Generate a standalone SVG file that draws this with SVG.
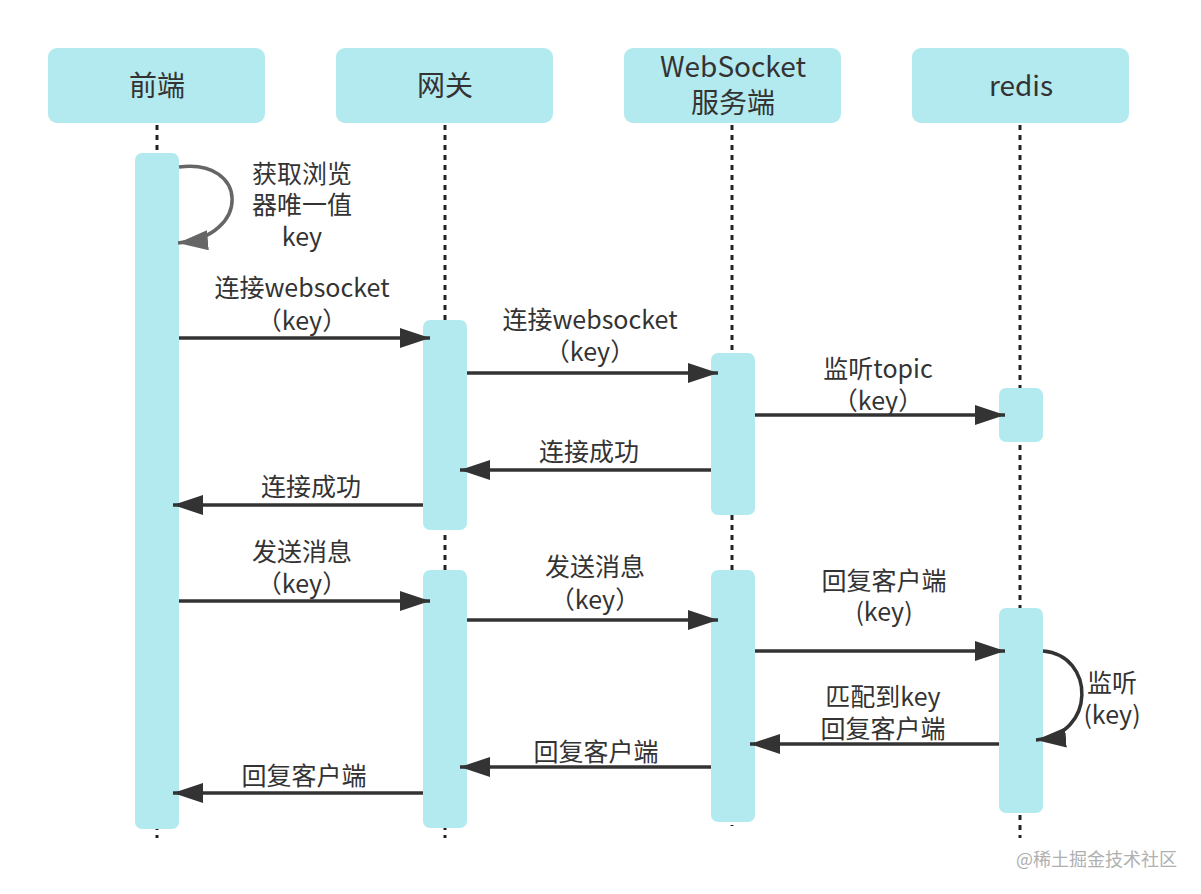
<svg xmlns="http://www.w3.org/2000/svg" width="1201" height="894" viewBox="0 0 1201 894">
<defs>
<style>
.hdr{fill:#b3eaef}
.act{fill:#b3eaef}
.life{stroke:#222;stroke-width:3;stroke-dasharray:5 5;fill:none}
.msg{stroke:#333;stroke-width:3.5;fill:none}
.t{font-family:"Noto Sans CJK SC","Microsoft YaHei",sans-serif;font-size:25px;fill:#333;text-anchor:middle}
.h{font-family:"Noto Sans CJK SC","Microsoft YaHei",sans-serif;font-size:28px;fill:#333;text-anchor:middle}
.wm{font-family:"Noto Sans CJK SC",sans-serif;font-size:18px;fill:#b0b0b0}
</style>
<marker id="ah" viewBox="0 0 30 20" refX="30" refY="10" markerWidth="30" markerHeight="20" markerUnits="userSpaceOnUse" orient="auto">
<path d="M0,0 L30,10 L0,20 Z" fill="#333"/>
</marker>
<marker id="ahg" viewBox="0 0 30 20" refX="30" refY="10" markerWidth="30" markerHeight="20" markerUnits="userSpaceOnUse" orient="auto">
<path d="M0,0 L30,10 L0,20 Z" fill="#666"/>
</marker>
</defs>
<rect width="1201" height="894" fill="#fff"/>

<g id="lifelines">
<line class="life" x1="157" y1="125" x2="157" y2="838"/>
<line class="life" x1="445" y1="125" x2="445" y2="838"/>
<line class="life" x1="732" y1="125" x2="732" y2="826"/>
<line class="life" x1="1020" y1="125" x2="1020" y2="838"/>
</g>

<g id="node-frontend">
<rect class="hdr" x="48" y="48" width="217" height="75" rx="9"/>
<text class="h" x="157" y="96">前端</text>
</g>
<g id="node-gateway">
<rect class="hdr" x="336" y="48" width="217" height="75" rx="9"/>
<text class="h" x="445" y="96">网关</text>
</g>
<g id="node-ws">
<rect class="hdr" x="624" y="48" width="217" height="75" rx="9"/>
<text class="h" x="733" y="77">WebSocket</text>
<text class="h" x="733" y="113">服务端</text>
</g>
<g id="node-redis">
<rect class="hdr" x="912" y="48" width="217" height="75" rx="9"/>
<text class="h" x="1021" y="96">redis</text>
</g>

<g id="activations">
<rect class="act" x="135" y="153" width="44" height="676" rx="7"/>
<rect class="act" x="423" y="320" width="44" height="210" rx="7"/>
<rect class="act" x="423" y="570" width="44" height="258" rx="7"/>
<rect class="act" x="711" y="353" width="44" height="162" rx="7"/>
<rect class="act" x="711" y="570" width="44" height="252" rx="7"/>
<rect class="act" x="999" y="388" width="44" height="54" rx="7"/>
<rect class="act" x="999" y="608" width="44" height="205" rx="7"/>
</g>

<g id="connectors">
<path d="M179,167 C248,158 252,236 178,243" stroke="#666" stroke-width="3.5" fill="none" marker-end="url(#ahg)"/>
<line class="msg" x1="179" y1="338" x2="430" y2="338" marker-end="url(#ah)"/>
<line class="msg" x1="467" y1="373" x2="718" y2="373" marker-end="url(#ah)"/>
<line class="msg" x1="755" y1="415" x2="1005" y2="415" marker-end="url(#ah)"/>
<line class="msg" x1="711" y1="470" x2="460" y2="470" marker-end="url(#ah)"/>
<line class="msg" x1="423" y1="505" x2="173" y2="505" marker-end="url(#ah)"/>
<line class="msg" x1="179" y1="601" x2="430" y2="601" marker-end="url(#ah)"/>
<line class="msg" x1="467" y1="620" x2="718" y2="620" marker-end="url(#ah)"/>
<line class="msg" x1="755" y1="651" x2="1005" y2="651" marker-end="url(#ah)"/>
<path class="msg" d="M1043,651 C1095,655 1097,735 1036,740" marker-end="url(#ah)"/>
<line class="msg" x1="999" y1="744" x2="750" y2="744" marker-end="url(#ah)"/>
<line class="msg" x1="711" y1="767" x2="460" y2="767" marker-end="url(#ah)"/>
<line class="msg" x1="423" y1="793" x2="173" y2="793" marker-end="url(#ah)"/>
</g>

<g id="labels">
<text class="t" x="302" y="183">获取浏览</text>
<text class="t" x="302" y="214">器唯一值</text>
<text class="t" x="302" y="246">key</text>
<text class="t" x="302" y="297">连接websocket</text>
<text class="t" x="302" y="330">（key）</text>
<text class="t" x="590" y="329">连接websocket</text>
<text class="t" x="590" y="361">（key）</text>
<text class="t" x="878" y="378">监听topic</text>
<text class="t" x="878" y="410">（key）</text>
<text class="t" x="589" y="461">连接成功</text>
<text class="t" x="311" y="496">连接成功</text>
<text class="t" x="302" y="561">发送消息</text>
<text class="t" x="302" y="593">（key）</text>
<text class="t" x="595" y="576">发送消息</text>
<text class="t" x="595" y="609">（key）</text>
<text class="t" x="884" y="590">回复客户端</text>
<text class="t" x="884" y="621">(key)</text>
<text class="t" x="1112" y="692">监听</text>
<text class="t" x="1112" y="724">(key)</text>
<text class="t" x="883" y="706">匹配到key</text>
<text class="t" x="883" y="738">回复客户端</text>
<text class="t" x="596" y="761">回复客户端</text>
<text class="t" x="304" y="785">回复客户端</text>
</g>

<text class="wm" x="1016" y="866">@稀土掘金技术社区</text>
</svg>
